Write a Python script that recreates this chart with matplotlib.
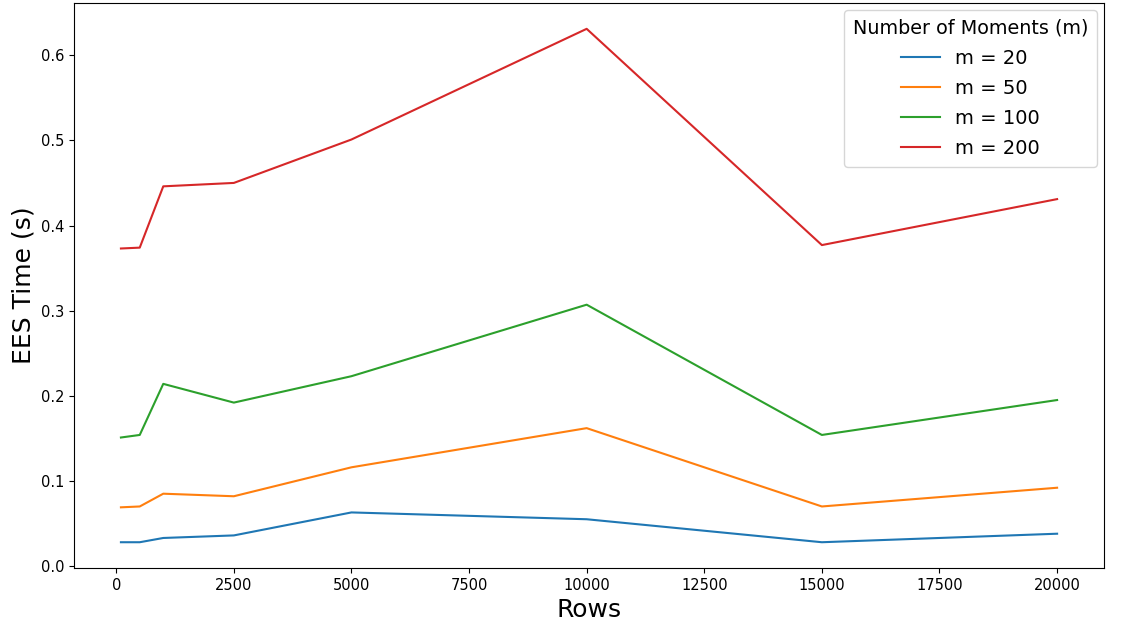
import numpy as np
import matplotlib.pyplot as plt

rows = [100, 500, 1000, 2500, 5000, 10000, 15000, 20000]
m_values = [20, 50, 100, 200]
time_m20 = [0.028, 0.028, 0.033, 0.036, 0.063, 0.055, 0.028, 0.038]
time_m50 = [0.069, 0.070, 0.085, 0.082, 0.116, 0.162, 0.070, 0.092]
time_m100 = [0.151, 0.154, 0.214, 0.192, 0.223, 0.307, 0.154, 0.195]
time_m200 = [0.373, 0.374, 0.446, 0.450, 0.501, 0.631, 0.377, 0.431]

fig, ax = plt.subplots(figsize=(11.23, 6.31), dpi=100)
fig.subplots_adjust(left=0.066, right=0.983, top=0.995, bottom=0.1)

for m, t in zip(m_values, [time_m20, time_m50, time_m100, time_m200]):
    ax.plot(rows, t, label=f'm = {m}')

ax.tick_params(labelsize=10.5)
ax.set_xlabel('Rows', fontsize=18)
ax.set_ylabel('EES Time (s)', fontsize=18)
ax.legend(title='Number of Moments (m)', fontsize=14, title_fontsize=13.8,
          handlelength=2.0, labelspacing=0.57, borderpad=0.45,
          borderaxespad=0.35)

plt.savefig('out.png')
